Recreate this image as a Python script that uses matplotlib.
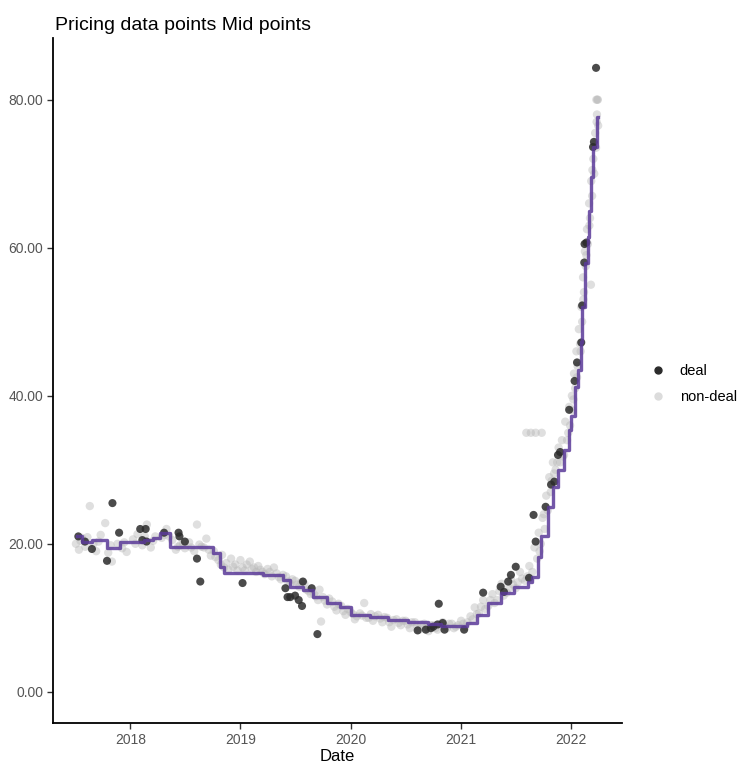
import numpy as np
import pandas as pd
import matplotlib.pyplot as plt
import matplotlib.dates as mdates
from matplotlib.lines import Line2D

plt.rcParams['font.family'] = ['Liberation Sans', 'DejaVu Sans']

# step line (mid points)
mid_dates = ['2017-07-08', '2017-07-26', '2017-08-28', '2017-10-15', '2017-11-28',
             '2018-02-15', '2018-03-18', '2018-04-10', '2018-05-12', '2018-10-01',
             '2018-10-26', '2018-11-06', '2019-03-18', '2019-05-22', '2019-06-14',
             '2019-07-26', '2019-08-28', '2019-10-15', '2019-11-28', '2020-01-01',
             '2020-03-06', '2020-05-04', '2020-07-08', '2020-09-12', '2020-10-27',
             '2021-01-22', '2021-02-24', '2021-04-01', '2021-05-12', '2021-06-25',
             '2021-08-11', '2021-08-25', '2021-09-12', '2021-09-23', '2021-10-15',
             '2021-11-03', '2021-11-17', '2021-12-09', '2021-12-24', '2022-01-01',
             '2022-01-12', '2022-01-23', '2022-02-02', '2022-02-06', '2022-02-14',
             '2022-02-24', '2022-02-28', '2022-03-06', '2022-03-14', '2022-03-28',
             '2022-04-01']
mid_values = [21.0, 20.3, 20.5, 19.5, 20.3,
              20.5, 20.8, 21.5, 19.6, 18.8,
              16.8, 16.1, 15.8, 15.1, 14.2,
              13.8, 12.8, 12.0, 11.4, 10.4,
              10.1, 9.7, 9.5, 9.2, 8.9,
              9.3, 10.4, 12.0, 13.4, 14.2,
              14.9, 15.5, 18.2, 21.0, 25.0,
              27.7, 30.0, 32.7, 35.4, 37.2,
              41.2, 43.5, 47.2, 52.0, 58.0,
              61.5, 65.0, 69.6, 73.6, 77.7,
              77.7]

# deal points
deal_dates = ['2017-07-13', '2017-08-04', '2017-08-27', '2017-10-16', '2017-11-03',
              '2017-11-25', '2018-02-03', '2018-02-21', '2018-02-10', '2018-02-24',
              '2018-04-23', '2018-06-10', '2018-06-13', '2018-07-01', '2018-08-10',
              '2018-08-21', '2019-01-08', '2019-05-30', '2019-06-06', '2019-06-15',
              '2019-07-01', '2019-07-13', '2019-07-24', '2019-07-27', '2019-08-25',
              '2019-09-13', '2020-08-10', '2020-09-06', '2020-09-23', '2020-10-01',
              '2020-10-15', '2020-10-19', '2020-11-01', '2020-11-07', '2021-01-11',
              '2021-03-15', '2021-05-12', '2021-05-23', '2021-06-06', '2021-06-15',
              '2021-07-01', '2021-08-14', '2021-08-29', '2021-09-05', '2021-10-08',
              '2021-10-26', '2021-11-06', '2021-11-18', '2021-11-25', '2021-12-25',
              '2022-01-12', '2022-01-20', '2022-02-03', '2022-02-06', '2022-02-13',
              '2022-02-14', '2022-02-20', '2022-03-14', '2022-03-17', '2022-03-24']
deal_values = [21.0, 20.3, 19.3, 17.7, 25.5,
               21.5, 22.0, 22.0, 20.5, 20.3,
               21.5, 21.5, 21.0, 20.3, 18.0,
               14.9, 14.7, 14.0, 12.8, 12.8,
               13.0, 12.4, 11.6, 14.9, 14.0,
               7.8, 8.3, 8.4, 8.6, 8.8,
               9.1, 11.9, 9.3, 8.4, 8.4,
               13.4, 14.2, 13.5, 14.9, 15.8,
               16.9, 15.4, 23.9, 20.3, 25.0,
               28.0, 28.4, 32.0, 32.4, 38.1,
               42.0, 44.5, 47.2, 52.2, 58.0,
               60.5, 60.7, 73.6, 74.3, 84.3]

# non-deal points
nondeal_dates = ['2017-07-05', '2017-07-15', '2017-07-25', '2017-08-05', '2017-08-20',
                 '2017-09-01', '2017-09-10', '2017-09-25', '2017-10-10', '2017-10-20',
                 '2017-11-01', '2017-11-20', '2017-12-05', '2017-12-20', '2018-01-10',
                 '2018-01-25', '2018-02-10', '2018-02-25', '2018-03-10', '2018-03-25',
                 '2018-04-15', '2018-05-01', '2018-05-20', '2018-06-01', '2018-06-15',
                 '2018-07-01', '2018-07-15', '2018-08-01', '2018-08-10', '2018-08-25',
                 '2018-09-10', '2018-09-25', '2018-10-10', '2018-10-20', '2018-11-01',
                 '2018-11-15', '2018-12-01', '2018-12-15', '2019-01-01', '2019-01-15',
                 '2019-02-01', '2019-02-15', '2019-03-01', '2019-03-15', '2019-04-01',
                 '2019-04-15', '2019-05-01', '2019-05-15', '2019-06-01', '2019-06-15',
                 '2019-07-01', '2019-07-15', '2019-08-01', '2019-08-15', '2019-09-01',
                 '2019-09-15', '2019-09-25', '2019-10-01', '2019-10-15', '2019-11-01',
                 '2019-11-15', '2019-12-01', '2019-12-15', '2020-01-01', '2020-01-15',
                 '2020-02-01', '2020-02-15', '2020-03-01', '2020-03-15', '2020-04-01',
                 '2020-04-15', '2020-05-01', '2020-05-15', '2020-06-01', '2020-06-15',
                 '2020-07-01', '2020-07-15', '2020-08-01', '2020-08-15', '2020-09-01',
                 '2020-09-15', '2020-10-01', '2020-10-15', '2020-11-01', '2020-11-15',
                 '2020-12-01', '2020-12-15', '2021-01-01', '2021-01-15', '2021-02-01',
                 '2021-02-15', '2021-03-01', '2021-03-15', '2021-04-01', '2021-04-15',
                 '2021-05-01', '2021-05-15', '2021-06-01', '2021-06-15', '2021-07-01',
                 '2021-07-15', '2021-08-01', '2021-08-15', '2021-08-25', '2021-09-01',
                 '2021-09-10', '2021-09-15', '2021-09-22', '2021-09-28', '2021-10-05',
                 '2021-10-10', '2021-10-15', '2021-10-20', '2021-08-05', '2021-08-20',
                 '2021-09-05', '2021-09-25', '2021-10-25', '2021-11-01', '2021-11-05',
                 '2021-11-15', '2021-11-20', '2021-11-25', '2021-12-01', '2021-12-08',
                 '2021-12-12', '2021-12-18', '2021-12-25', '2021-12-28', '2022-01-03',
                 '2022-01-06', '2022-01-10', '2022-01-14', '2022-01-18', '2022-01-22',
                 '2022-01-26', '2022-01-30', '2022-02-03', '2022-02-06', '2022-02-09',
                 '2022-02-12', '2022-02-15', '2022-02-18', '2022-02-22', '2022-02-25',
                 '2022-03-01', '2022-03-04', '2022-03-08', '2022-03-11', '2022-03-15',
                 '2022-03-18', '2022-03-21', '2022-03-24', '2022-03-27', '2022-03-28',
                 '2022-03-30', '2022-03-31', '2022-03-07', '2022-03-25']
nondeal_values = [20.0, 19.2, 20.8, 19.6, 25.1,
                  20.0, 19.0, 21.2, 22.8, 18.8,
                  17.6, 20.0, 19.4, 18.9, 20.6,
                  21.3, 19.8, 22.6, 19.5, 21.0,
                  20.8, 22.0, 20.5, 19.2, 19.8,
                  19.4, 20.2, 19.0, 22.6, 19.6,
                  20.7, 18.4, 18.2, 17.8, 18.5,
                  17.4, 18.0, 17.2, 17.8, 16.4,
                  17.6, 16.8, 17.0, 16.2, 16.6,
                  15.6, 16.0, 15.2, 15.6, 14.6,
                  15.0, 14.2, 14.6, 13.6, 13.2,
                  12.4, 9.5, 12.8, 11.8, 12.2,
                  11.0, 11.6, 10.4, 10.8, 9.8,
                  10.6, 12.0, 10.0, 9.6, 10.4,
                  9.4, 10.0, 8.8, 9.8, 9.0,
                  9.6, 8.6, 9.4, 8.4, 9.2,
                  8.2, 9.0, 8.4, 9.4, 8.6,
                  9.2, 8.8, 9.6, 8.8, 10.2,
                  11.4, 10.6, 12.4, 11.6, 13.2,
                  12.4, 14.6, 13.4, 15.2, 14.0,
                  16.2, 15.0, 17.0, 16.2, 19.5,
                  18.0, 21.5, 20.0, 23.5, 22.0,
                  26.5, 24.5, 29.0, 35.0, 35.0,
                  35.0, 35.0, 27.0, 31.0, 29.5,
                  31.0, 33.0, 31.0, 34.0, 32.0,
                  36.5, 34.0, 38.5, 36.0, 40.0,
                  38.0, 43.0, 41.0, 46.0, 44.0,
                  49.0, 47.0, 52.0, 50.0, 56.0,
                  54.0, 59.5, 57.5, 62.5, 60.5,
                  66.0, 64.0, 69.0, 67.0, 72.0,
                  70.0, 75.5, 73.5, 78.0, 80.0,
                  80.0, 76.5, 55.0, 80.0]

# more non-deal quotes packed along the band
nondeal_dates_2 = ['2017-07-20', '2017-08-12', '2017-09-18', '2017-10-28', '2017-12-12',
                   '2018-01-18', '2018-02-18', '2018-03-18', '2018-04-25', '2018-05-10',
                   '2018-06-08', '2018-06-25', '2018-07-22', '2018-08-18', '2018-09-02',
                   '2018-09-18', '2018-10-05', '2018-10-28', '2018-11-08', '2018-11-22',
                   '2018-12-08', '2018-12-22', '2019-01-08', '2019-01-22', '2019-02-08',
                   '2019-02-22', '2019-03-08', '2019-03-22', '2019-04-08', '2019-04-22',
                   '2019-05-08', '2019-05-22', '2019-06-08', '2019-06-22', '2019-07-08',
                   '2019-07-22', '2019-08-08', '2019-08-22', '2019-09-08', '2019-09-20',
                   '2019-10-08', '2019-10-22', '2019-11-08', '2019-11-22', '2019-12-08',
                   '2019-12-22', '2020-01-08', '2020-01-22', '2020-02-08', '2020-02-22',
                   '2020-03-08', '2020-03-22', '2020-04-08', '2020-04-22', '2020-05-08',
                   '2020-05-22', '2020-06-08', '2020-06-22', '2020-07-08', '2020-07-22',
                   '2020-08-08', '2020-08-22', '2020-09-08', '2020-09-22', '2020-10-08',
                   '2020-10-22', '2020-11-08', '2020-11-22', '2020-12-08', '2020-12-22',
                   '2021-01-08', '2021-01-22', '2021-02-08', '2021-02-22', '2021-03-08',
                   '2021-03-22', '2021-04-08', '2021-04-22', '2021-05-08', '2021-05-22',
                   '2021-06-08', '2021-06-22', '2021-07-08', '2021-07-22', '2021-08-08',
                   '2021-08-18', '2021-09-18', '2021-10-02', '2021-10-28', '2021-11-10',
                   '2021-12-04', '2021-12-22', '2022-01-08', '2022-01-20', '2022-02-01',
                   '2022-02-10', '2022-02-20', '2022-03-02', '2022-03-12', '2022-03-19',
                   '2022-03-26']
nondeal_values_2 = [20.4, 20.9, 20.3, 19.8, 20.2,
                    20.0, 21.0, 20.4, 21.2, 21.0,
                    19.6, 20.0, 19.5, 19.9, 19.5,
                    19.2, 19.0, 17.2, 16.8, 16.5,
                    16.9, 16.4, 16.8, 17.2, 16.6,
                    16.2, 16.5, 15.9, 16.2, 16.8,
                    15.5, 15.8, 14.9, 15.2, 14.5,
                    14.8, 13.8, 13.2, 12.9, 13.8,
                    12.3, 12.6, 11.5, 11.9, 10.9,
                    11.2, 10.5, 10.2, 10.3, 10.0,
                    10.5, 10.2, 9.9, 10.1, 9.4,
                    9.7, 9.3, 9.6, 9.1, 9.4,
                    8.9, 9.1, 8.7, 9.0, 8.6,
                    9.1, 8.9, 9.2, 8.6, 9.0,
                    9.2, 9.4, 9.8, 10.5, 11.5,
                    11.2, 12.4, 12.0, 13.6, 13.0,
                    14.0, 14.5, 14.8, 15.3, 15.6,
                    15.2, 19.0, 24.0, 28.5, 30.0,
                    31.8, 35.0, 39.5, 42.5, 46.0,
                    53.0, 59.0, 63.0, 70.5, 74.0,
                    77.0]

mid_dates = pd.to_datetime(mid_dates)
deal_dates = pd.to_datetime(deal_dates)
nd_dates = pd.to_datetime(nondeal_dates + nondeal_dates_2)
nd_values = nondeal_values + nondeal_values_2

fig = plt.figure(figsize=(7.41, 7.65), dpi=100)
ax = fig.add_axes([0.0715, 0.055, 0.7675, 0.895])

ax.scatter(nd_dates, nd_values, s=36, color='#b8b8b8', alpha=0.45,
           edgecolors='none', zorder=2)
ax.scatter(deal_dates, deal_values, s=34, color='#2b2b2b', alpha=0.85,
           edgecolors='none', zorder=3)
ax.plot(mid_dates, mid_values, drawstyle='steps-post', color='#5b3a99',
        linewidth=2.4, alpha=0.85, zorder=4)

ax.set_xlim(pd.Timestamp('2017-04-20'), pd.Timestamp('2022-06-17'))
ax.set_ylim(-4.2, 88.3)
ax.set_yticks([0, 20, 40, 60, 80])
ax.set_yticklabels(['0.00', '20.00', '40.00', '60.00', '80.00'])
ax.xaxis.set_major_locator(mdates.YearLocator())
ax.xaxis.set_major_formatter(mdates.DateFormatter('%Y'))

for side in ['top', 'right']:
    ax.spines[side].set_visible(False)
for side in ['left', 'bottom']:
    ax.spines[side].set_linewidth(1.3)
    ax.spines[side].set_color('black')
ax.tick_params(axis='both', length=4, width=1, color='#333333',
               labelsize=10, labelcolor='#555555', pad=3)

ax.set_xlabel('Date', fontsize=12, color='black', labelpad=2)
fig.text(0.074, 0.967, 'Pricing data points Mid points', fontsize=14,
         color='black', ha='left', va='center')

handles = [Line2D([], [], marker='o', linestyle='none', markersize=5,
                  color='#2b2b2b', label='deal'),
           Line2D([], [], marker='o', linestyle='none', markersize=5,
                  color='#dcdcdc', label='non-deal')]
fig.legend(handles=handles, loc='center left', bbox_to_anchor=(0.86, 0.498),
           frameon=False, fontsize=10.5, handletextpad=1.0, labelspacing=0.85,
           handlelength=1.0)

fig.savefig('out.png', dpi=100)
